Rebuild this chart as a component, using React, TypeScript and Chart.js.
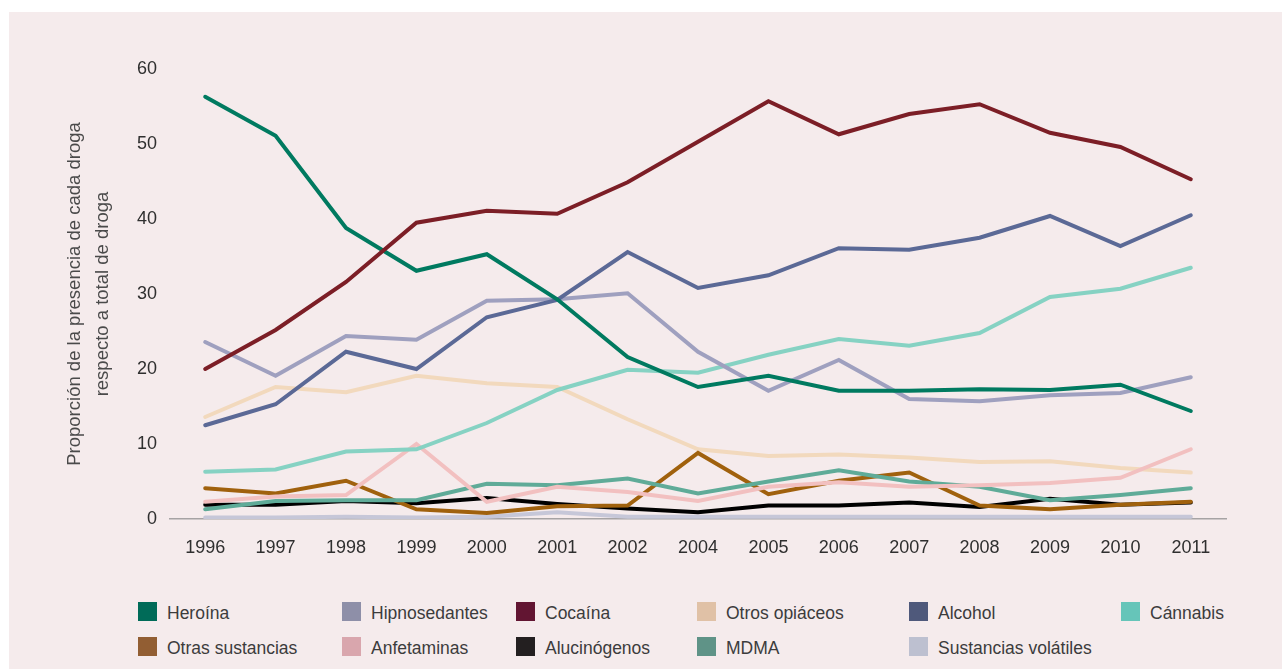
import React, { useEffect, useRef } from "react";
import { Chart, registerables } from "chart.js";

Chart.register(...registerables);

// ---------- data ----------
const years = ["1996", "1997", "1998", "1999", "2000", "2001", "2002", "2004", "2005", "2006", "2007", "2008", "2009", "2010", "2011"];

const heroina = [56.3, 51.1, 38.8, 33.1, 35.3, 29.3, 21.6, 17.6, 19.1, 17.1, 17.1, 17.3, 17.2, 17.9, 14.4];
const hipnosedantes = [23.6, 19.1, 24.4, 23.9, 29.1, 29.3, 30.1, 22.3, 17.1, 21.2, 16.0, 15.7, 16.5, 16.8, 18.9];
const cocaina = [20.0, 25.2, 31.6, 39.5, 41.1, 40.7, 44.9, 50.3, 55.7, 51.3, 54.0, 55.3, 51.5, 49.6, 45.3];
const otrosOpiaceos = [13.6, 17.6, 16.9, 19.1, 18.1, 17.6, 13.3, 9.3, 8.4, 8.6, 8.2, 7.6, 7.7, 6.8, 6.2];
const alcohol = [12.5, 15.3, 22.3, 20.0, 26.9, 29.2, 35.6, 30.8, 32.5, 36.1, 35.9, 37.5, 40.4, 36.4, 40.5];
const cannabis = [6.3, 6.6, 9.0, 9.3, 12.8, 17.2, 19.9, 19.5, 21.9, 24.0, 23.1, 24.8, 29.6, 30.7, 33.5];
const otrasSustancias = [4.1, 3.4, 5.1, 1.3, 0.8, 1.7, 1.8, 8.8, 3.3, 5.1, 6.2, 1.8, 1.3, 1.9, 2.3];
const anfetaminas = [2.3, 3.0, 3.2, 10.0, 2.3, 4.3, 3.6, 2.4, 4.3, 4.9, 4.3, 4.5, 4.8, 5.5, 9.3];
const alucinogenos = [1.9, 1.9, 2.4, 2.1, 2.8, 2.0, 1.4, 0.9, 1.8, 1.8, 2.2, 1.6, 2.7, 1.9, 2.2];
const mdma = [1.3, 2.4, 2.5, 2.5, 4.7, 4.5, 5.4, 3.4, 5.0, 6.5, 5.0, 4.3, 2.5, 3.2, 4.1];
const volatiles = [0.2, 0.2, 0.3, 0.2, 0.3, 0.9, 0.3, 0.3, 0.3, 0.3, 0.3, 0.3, 0.3, 0.3, 0.3];

const seriesNames = [
  "Heroína", "Hipnosedantes", "Cocaína", "Otros opiáceos", "Alcohol", "Cánnabis",
  "Otras sustancias", "Anfetaminas", "Alucinógenos", "MDMA", "Sustancias volátiles",
];
const seriesValues = [
  heroina, hipnosedantes, cocaina, otrosOpiaceos, alcohol, cannabis,
  otrasSustancias, anfetaminas, alucinogenos, mdma, volatiles,
];
const lineColors = [
  "#007a60", "#9fa0bf", "#7c1e26", "#f2d9bd", "#5b6996", "#86d2c3",
  "#a0610d", "#f2c0c0", "#000000", "#5fab98", "#c6c7d8",
];
const legendColors = [
  "#006b58", "#8e8fa8", "#621532", "#e0c1a6", "#4f597b", "#66c5b9",
  "#925e33", "#d9a6ad", "#231f20", "#5f9387", "#bdc0d0",
];
// drawing order: lower = on top
const drawOrder = [1, 3, 0, 9, 2, 4, 7, 5, 8, 6, 10];

const yTitle = ["Proporción de la presencia de cada droga", "respecto a total de droga"];
const yTicks = [0, 10, 20, 30, 40, 50, 60];

const FONT = "'Liberation Sans', Arial, Helvetica, sans-serif";

const CW = 1273;
const CH = 580;

export default function App() {
  const ref = useRef<HTMLCanvasElement | null>(null);

  useEffect(() => {
    if (!ref.current) return;
    Chart.defaults.font.family = FONT;
    const chart = new Chart(ref.current, {
      type: "line",
      data: {
        labels: years,
        datasets: seriesNames.map((name, i) => ({
          label: name,
          data: seriesValues[i],
          borderColor: lineColors[i],
          backgroundColor: lineColors[i],
          borderWidth: 4,
          pointRadius: 0,
          tension: 0,
          borderCapStyle: "round" as const,
          fill: false,
          order: drawOrder[i],
        })),
      },
      options: {
        responsive: false,
        maintainAspectRatio: false,
        animation: false,
        layout: { padding: { top: 57, left: 0, right: CW - 1217, bottom: 0 } },
        plugins: {
          legend: { display: false },
          tooltip: { enabled: false },
          title: { display: false },
        },
        scales: {
          x: {
            type: "category",
            offset: true,
            grid: { display: false, drawTicks: false },
            border: { display: true, color: "#a6a3a4", width: 1.5 },
            ticks: {
              padding: 18,
              color: "#2f2f2f",
              font: { size: 18, family: FONT },
              maxRotation: 0,
              autoSkip: false,
            },
            afterFit: (s: any) => {
              s.height = CH - 507;
            },
          },
          y: {
            min: 0,
            max: 60,
            grid: { display: false, drawTicks: false },
            border: { display: false },
            afterBuildTicks: (s: any) => {
              s.ticks = yTicks.map((v) => ({ value: v }));
            },
            ticks: {
              padding: 13,
              color: "#2f2f2f",
              font: { size: 18, family: FONT },
            },
            title: {
              display: true,
              text: yTitle,
              color: "#4a4a4a",
              font: { size: 18.5, family: FONT, lineHeight: 1.52 },
              padding: { top: 52, bottom: 0 },
            },
            afterFit: (s: any) => {
              s.width = 161;
            },
          },
        },
      },
    });
    return () => chart.destroy();
  }, []);

  const cols = [129, 333, 507, 688, 900, 1112];
  const rows = [590, 625];
  const legendItems = seriesNames.map((name, i) => {
    const row = i < 6 ? 0 : 1;
    const col = i < 6 ? i : i - 6;
    return { name, color: legendColors[i], left: cols[col], top: rows[row] };
  });

  return (
    <div
      style={{
        position: "absolute",
        left: 9,
        top: 12,
        width: 1273,
        height: 657,
        background: "#f5ebec",
        overflow: "hidden",
        fontFamily: FONT,
      }}
    >
      <canvas ref={ref} width={CW} height={CH} style={{ display: "block", width: CW, height: CH }} />
      {legendItems.map((it) => (
        <div key={it.name} style={{ position: "absolute", left: it.left, top: it.top, height: 19 }}>
          <div
            style={{
              position: "absolute",
              left: 0,
              top: 0,
              width: 19,
              height: 19,
              background: it.color,
            }}
          />
          <div
            style={{
              position: "absolute",
              left: 29,
              top: 2,
              whiteSpace: "nowrap",
              fontSize: 17.5,
              lineHeight: "19px",
              color: "#3c3c3c",
            }}
          >
            {it.name}
          </div>
        </div>
      ))}
    </div>
  );
}
